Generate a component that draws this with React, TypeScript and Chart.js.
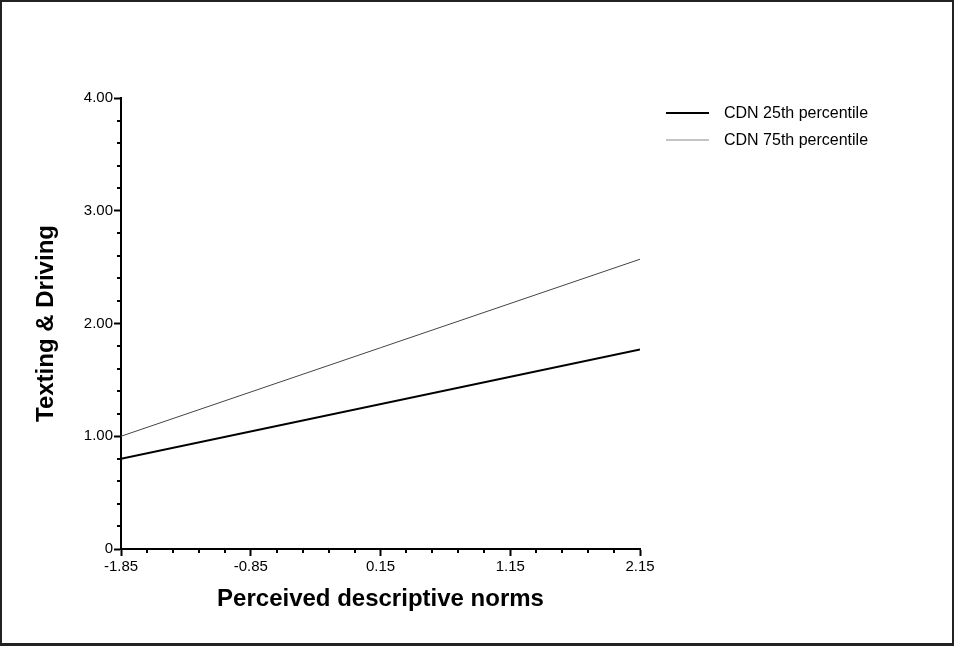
import React, { useEffect, useRef } from "react";
import { Chart, registerables } from "chart.js";

Chart.register(...registerables);

const xValues = [-1.85, 2.15];
const cdn25 = [0.8, 1.77];
const cdn75 = [1.0, 2.57];
const seriesLabels = ["CDN 25th percentile", "CDN 75th percentile"];
const xMajorTicks = [-1.85, -0.85, 0.15, 1.15, 2.15];
const xTickLabels = ["-1.85", "-0.85", "0.15", "1.15", "2.15"];
const yMajorTicks = [0, 1, 2, 3, 4];
const yTickLabels = ["0", "1.00", "2.00", "3.00", "4.00"];
const xTitle = "Perceived descriptive norms";
const yTitle = "Texting & Driving";

const FONT = "'Liberation Sans', Arial, Helvetica, sans-serif";

function withMinors(majors: number[], n: number) {
  const out: { value: number; major: boolean }[] = [];
  for (let i = 0; i < majors.length; i++) {
    out.push({ value: majors[i], major: true });
    if (i < majors.length - 1) {
      const step = (majors[i + 1] - majors[i]) / (n + 1);
      for (let k = 1; k <= n; k++) out.push({ value: +(majors[i] + step * k).toFixed(6), major: false });
    }
  }
  return out;
}

const minorTicksPlugin = {
  id: "minorTicks",
  afterDraw(chart: any) {
    const ctx = chart.ctx;
    const xs = chart.scales.x;
    const ys = chart.scales.y;
    const len = 4;
    ctx.save();
    ctx.strokeStyle = "#000";
    ctx.lineWidth = 2;
    withMinors(xMajorTicks, 4).filter((t) => !t.major).forEach((t) => {
      const px = Math.round(xs.getPixelForValue(t.value));
      ctx.beginPath();
      ctx.moveTo(px, ys.bottom);
      ctx.lineTo(px, ys.bottom + len);
      ctx.stroke();
    });
    withMinors(yMajorTicks, 4).filter((t) => !t.major).forEach((t) => {
      const py = Math.round(ys.getPixelForValue(t.value));
      ctx.beginPath();
      ctx.moveTo(xs.left - len, py);
      ctx.lineTo(xs.left + 1, py);
      ctx.stroke();
    });
    ctx.restore();
  },
};

const legendPlugin = {
  id: "customLegend",
  afterDraw(chart: any) {
    const ctx = chart.ctx;
    const area = chart.chartArea;
    ctx.save();
    chart.data.datasets.forEach((ds: any, i: number) => {
      const y = area.top + 15 + i * 27;
      const x0 = area.right + 26;
      ctx.strokeStyle = ds.legendColor || ds.borderColor;
      ctx.lineWidth = ds.borderWidth;
      ctx.beginPath();
      ctx.moveTo(x0, y);
      ctx.lineTo(x0 + 43, y);
      ctx.stroke();
      ctx.fillStyle = "#000";
      ctx.font = `16px ${FONT}`;
      ctx.textBaseline = "middle";
      ctx.textAlign = "left";
      ctx.fillText(ds.label, x0 + 58, y + 1);
    });
    ctx.restore();
  },
};

export default function App() {
  const ref = useRef<HTMLCanvasElement | null>(null);
  useEffect(() => {
    if (!ref.current) return;
    const xt = withMinors(xMajorTicks, 0);
    const yt = withMinors(yMajorTicks, 0);
    const chart = new Chart(ref.current, {
      type: "line",
      data: {
        datasets: [
          {
            label: seriesLabels[0],
            data: xValues.map((x, i) => ({ x, y: cdn25[i] })),
            borderColor: "#000000",
            borderWidth: 2,
            pointRadius: 0,
            fill: false,
          },
          {
            label: seriesLabels[1],
            data: xValues.map((x, i) => ({ x, y: cdn75[i] })),
            borderColor: "#444444",
            legendColor: "#888888",
            borderWidth: 1,
            pointRadius: 0,
            fill: false,
          },
        ],
      },
      options: {
        animation: false,
        responsive: false,
        maintainAspectRatio: false,
        layout: { padding: { top: 98, right: 314, left: 0, bottom: 0 } },
        plugins: { legend: { display: false }, tooltip: { enabled: false } },
        scales: {
          x: {
            type: "linear",
            min: xMajorTicks[0],
            max: xMajorTicks[xMajorTicks.length - 1],
            afterBuildTicks: (scale: any) => {
              scale.ticks = xt.map((t) => ({ value: t.value }));
            },
            afterFit: (scale: any) => {
              scale.height = 97;
            },
            ticks: {
              autoSkip: false,
              maxRotation: 0,
              padding: 2,
              color: "#000",
              font: { family: FONT, size: 15 },
              callback: (_v: any, i: number) => xTickLabels[i],
            },
            grid: { drawOnChartArea: false, drawTicks: true, tickLength: 7, tickWidth: 2, tickColor: "#000" },
            border: { display: true, color: "#000", width: 2 },
            title: {
              display: true,
              text: xTitle,
              color: "#000",
              font: { family: FONT, size: 24, weight: "bold" },
              padding: { top: 0, bottom: 32 },
            },
          },
          y: {
            type: "linear",
            min: yMajorTicks[0],
            max: yMajorTicks[yMajorTicks.length - 1],
            afterBuildTicks: (scale: any) => {
              scale.ticks = yt.map((t) => ({ value: t.value }));
            },
            afterFit: (scale: any) => {
              scale.width = 121;
            },
            ticks: {
              autoSkip: false,
              padding: 1,
              color: "#000",
              font: { family: FONT, size: 15 },
              callback: (_v: any, i: number) => yTickLabels[i],
            },
            grid: { drawOnChartArea: false, drawTicks: true, tickLength: 7, tickWidth: 2, tickColor: "#000" },
            border: { display: true, color: "#000", width: 2 },
            title: {
              display: true,
              text: yTitle,
              color: "#000",
              font: { family: FONT, size: 24, weight: "bold" },
              padding: { top: 32, bottom: 0 },
            },
          },
        },
      },
      plugins: [minorTicksPlugin, legendPlugin],
    } as any);
    return () => chart.destroy();
  }, []);

  return (
    <div style={{ position: "fixed", left: 0, top: 0, width: 954, height: 646, background: "#fff" }}>
      <canvas ref={ref} width={954} height={646} style={{ position: "absolute", left: 0, top: 0, width: 954, height: 646 }} />
      <div
        style={{
          position: "absolute",
          left: 0,
          top: 0,
          width: 954,
          height: 646,
          boxSizing: "border-box",
          borderTop: "2px solid #222",
          borderLeft: "2px solid #222",
          borderRight: "2px solid #222",
          borderBottom: "3px solid #222",
          pointerEvents: "none",
        }}
      />
    </div>
  );
}
